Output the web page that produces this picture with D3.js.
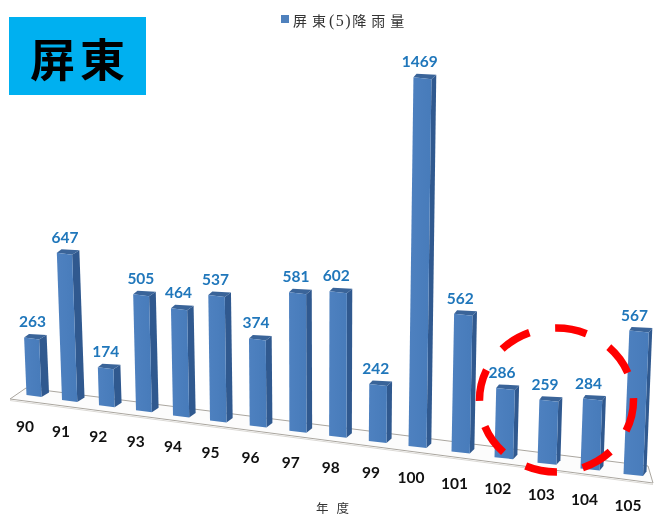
<!DOCTYPE html>
<html><head><meta charset="utf-8">
<script src="https://cdn.jsdelivr.net/npm/d3@7/dist/d3.min.js"></script>
<style>html,body{margin:0;padding:0;background:#fff}svg{display:block;filter:blur(0.35px)}</style>
</head><body><svg id="c" width="656" height="517"></svg>
<script>
const years = ["90","91","92","93","94","95","96","97","98","99","100","101","102","103","104","105"];
const rainfall = [263,647,174,505,464,537,374,581,602,242,1469,562,286,259,284,567];
const legendParts = ["屏東","(5)","降雨量"];
const axisTitle = "年度";
const badge = "屏東";

const svg = d3.select("#c");
const cjk = '"Noto Sans CJK TC","Noto Sans CJK SC",sans-serif';
const num = 'Lato,"Open Sans",sans-serif';

// perspective floor: category index -> screen position
const xBase = d3.scaleLinear().domain([0,1,5,10,15]).range([26.5,62,210,408.5,623.5]);
const yBase = d3.scaleLinear().domain([0,10,15]).range([397,448,476]);
const unit  = d3.scaleLinear().domain([0,15]).range([0.228,0.256]);
const tall  = d3.scaleLinear().domain([500,1500]).range([1,1.024]);
const lean  = d3.scaleLinear().domain([0,15]).range([-0.04,0.04]);
const width = d3.scaleLinear().domain([0,15]).range([15,19.5]);
const depth = d3.scaleLinear().domain([0,15]).range([7.5,3.5]);

const defs = svg.append("defs");
const g = defs.append("linearGradient").attr("id","front");
g.append("stop").attr("offset","0").attr("stop-color","#4e81c0");
g.append("stop").attr("offset","1").attr("stop-color","#477bba");

// floor
svg.append("path").attr("d","M10,399L26,388L648,466L653,483Z")
  .attr("fill","#fcfcfc").attr("stroke","#aaa69f").attr("stroke-width",1);
svg.append("path").attr("d","M10,400.5L653,484.5").attr("fill","none").attr("stroke","#dcdad6").attr("stroke-width",1);

// bars
const line = d3.line();
const bars = svg.append("g").selectAll("g").data(rainfall).join("g");
function geom(v,i){
  const w = width(i), d = depth(i), h = v*unit(i)*tall(v), s = lean(i)*h;
  const brx = xBase(i)+w, bry = yBase(i);
  const BR=[brx,bry], BL=[xBase(i),bry-2];
  const TL=[xBase(i)+s,bry-h], TR=[xBase(i)+s+w,bry-h+2];
  return {BR,BL,TL,TR,d};
}
bars.append("path").attr("fill","#30598f").attr("d",(v,i)=>{
  const a=geom(v,i);
  return line([a.TR,[a.TR[0]+a.d,a.TR[1]-4.5],[a.BR[0]+a.d,a.BR[1]-4.5],a.BR])+"Z";
});
bars.append("path").attr("fill","#3a6499").attr("d",(v,i)=>{
  const a=geom(v,i);
  return line([a.TL,[a.TL[0]+a.d*.65,a.TL[1]-3.5],[a.TR[0]+a.d,a.TR[1]-4.5],a.TR])+"Z";
});
bars.append("path").attr("fill","url(#front)").attr("d",(v,i)=>{
  const a=geom(v,i);
  return line([a.TL,a.TR,a.BR,a.BL])+"Z";
});

// value labels
svg.append("g").selectAll("text").data(rainfall).join("text")
  .attr("x",(v,i)=>{const a=geom(v,i);return (a.TL[0]+a.TR[0])/2-i*0.35+0.8;})
  .attr("y",(v,i)=>geom(v,i).TL[1]-10)
  .attr("text-anchor","middle")
  .attr("font-family",num).attr("font-weight",700).attr("font-size",15.5)
  .attr("fill","#2077bb").text(v=>v);

// category labels
svg.append("g").selectAll("text").data(years).join("text")
  .attr("x",(y,i)=>xBase(i)-1.5+i*0.4)
  .attr("y",(y,i)=>yBase(i)+35)
  .attr("text-anchor","middle")
  .attr("font-family",num).attr("font-weight",700).attr("font-size",15.5)
  .attr("fill","#111").text(y=>y);

// axis title
svg.append("text").attr("x",316).attr("y",513)
  .attr("font-family",cjk).attr("font-size",12.5).attr("letter-spacing",8)
  .attr("fill","#333").text(axisTitle);

// legend
svg.append("rect").attr("x",281).attr("y",15).attr("width",8).attr("height",8).attr("fill","#4f81bd");
const lg = svg.append("text").attr("x",293).attr("y",25.5)
  .attr("font-family",cjk).attr("font-size",14).attr("letter-spacing",5)
  .attr("fill","#333");
lg.selectAll("tspan").data(legendParts).join("tspan")
  .attr("font-family",(d,i)=>i===1?'"Liberation Serif",serif':cjk)
  .attr("letter-spacing",(d,i)=>i===1?1.5:5)
  .attr("font-size",(d,i)=>i===1?16:14)
  .attr("dx",(d,i)=>i===1?-2:0)
  .text(d=>d);

// badge
svg.append("rect").attr("x",9).attr("y",17).attr("width",137).attr("height",78).attr("fill","#00b0f0");
svg.append("text").attr("x",30).attr("y",76.5)
  .attr("font-family",cjk).attr("font-weight",700).attr("font-size",45).attr("letter-spacing",5)
  .attr("fill","#000").text(badge);

// red dashed highlight
svg.append("ellipse").attr("cx",556.5).attr("cy",400).attr("rx",77).attr("ry",72)
  .attr("fill","none").attr("stroke","#ff0000").attr("stroke-width",7.5)
  .attr("stroke-dasharray","32 26.2");
</script></body></html>
